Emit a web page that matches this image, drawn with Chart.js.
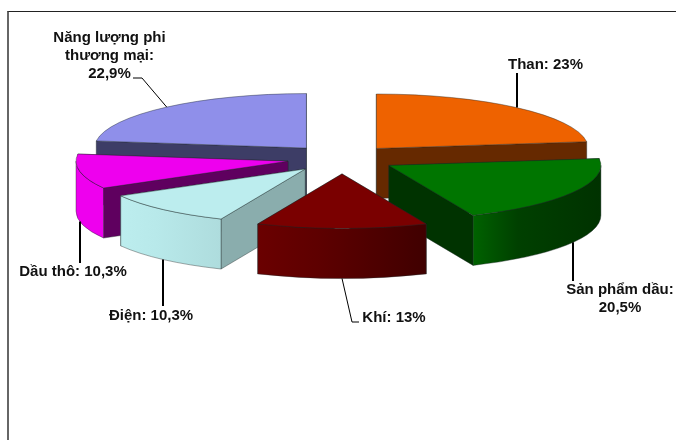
<!DOCTYPE html>
<html lang="vi">
<head>
  <meta charset="UTF-8" />
  <title>Cơ cấu năng lượng</title>
  <script src="https://cdn.jsdelivr.net/npm/chart.js"></script>
  <style>
    html, body { margin: 0; padding: 0; background: #fff; overflow: hidden; }
    #frame {
      position: absolute; left: 7px; top: 11px; width: 669px; height: 429px;
      border-top: 1px solid #222; border-left: 2px solid #666;
    }
    #chart { position: absolute; left: 0; top: 0; }
  </style>
</head>
<body>
  <div id="frame"></div>
  <canvas id="chart" width="676" height="440"></canvas>
  <script>
    const categories = ['Than', 'Sản phẩm dầu', 'Khí', 'Điện', 'Dầu thô', 'Năng lượng phi\nthương mại'];
    const shares = [23, 20.5, 13, 10.3, 10.3, 22.9];
    const labelBreaks = [' ', '\n', ' ', ' ', ' ', '\n'];

    const topColors = ['#EE6200', '#007500', '#7A0000', '#BCEDEE', '#EE00EE', '#8F8FEA'];
    const cutColors = ['#662900', '#003300', '#3A0000', '#8AADAD', '#5F005F', '#3D3D66'];
    const wallFrom = ['#EE6200', '#006200', '#6A0000', '#BCEDEE', '#EE00EE', '#8F8FEA'];
    const wallMid = ['#EE6200', '#004000', '#5E0000', '#B8E9EA', '#EE00EE', '#8F8FEA'];
    const wallTo = ['#EE6200', '#003200', '#400000', '#AEDCDD', '#EE00EE', '#8F8FEA'];

    // how far each slice is pulled out, and back-to-front paint order
    const explode = [52, 54, 60, 55, 55, 54];
    const paintOrder = [0, 5, 4, 3, 1, 2];
    const squash = 0.257;
    const depth = 50;

    // label anchors: centre x, first baseline
    const labelPos = [[545.5, 69], [620, 294], [394, 322], [151, 320], [73, 276], [109.5, 42]];
    const leaderEnds = [
      [[517, 73]],
      [[573, 281]],
      [[352, 322], [359, 322]],
      [[163, 306]],
      [[80, 263]],
      [[142, 78], [133, 78]]
    ];
    const leaderWidths = [2, 2, 1, 2, 2, 1];
    const edgeColor = 'rgba(30,40,40,0.5)';

    // screen position of a point on slice i, angle a, radius r, h px below the top face
    function pt(arc, i, a, r, h) {
      const mid = (arc.startAngle + arc.endAngle) / 2;
      return [
        arc.x + explode[i] * Math.cos(mid) + r * Math.cos(a),
        arc.y + squash * (explode[i] * Math.sin(mid) + r * Math.sin(a)) + (h || 0)
      ];
    }

    function drawCut(ctx, arc, i, a) {
      const apex = pt(arc, i, a, 0), edge = pt(arc, i, a, arc.outerRadius);
      ctx.fillStyle = cutColors[i];
      ctx.strokeStyle = edgeColor;
      ctx.lineWidth = 0.8;
      ctx.beginPath();
      ctx.moveTo(apex[0], apex[1]);
      ctx.lineTo(edge[0], edge[1]);
      ctx.lineTo(edge[0], edge[1] + depth);
      ctx.lineTo(apex[0], apex[1] + depth);
      ctx.closePath();
      ctx.fill();
      ctx.stroke();
    }

    function drawOuter(ctx, arc, i) {
      // only the front half of the rim can be seen
      const TAU = 2 * Math.PI;
      const s = ((arc.startAngle % TAU) + TAU) % TAU;
      const e = s + (arc.endAngle - arc.startAngle);
      const ranges = [];
      if (Math.min(e, Math.PI) > s) ranges.push([s, Math.min(e, Math.PI)]);
      if (e > TAU) ranges.push([TAU, Math.min(e, 3 * Math.PI)]);
      ranges.forEach(([p, q]) => {
        const c = pt(arc, i, 0, 0);
        const x0 = pt(arc, i, q, arc.outerRadius)[0], x1 = pt(arc, i, p, arc.outerRadius)[0];
        const grad = ctx.createLinearGradient(x0, 0, x1, 0);
        grad.addColorStop(0, wallFrom[i]);
        grad.addColorStop(0.35, wallMid[i]);
        grad.addColorStop(1, wallTo[i]);
        ctx.fillStyle = grad;
        ctx.strokeStyle = edgeColor;
        ctx.lineWidth = 0.8;
        const rx = arc.outerRadius, ry = arc.outerRadius * squash;
        ctx.beginPath();
        ctx.ellipse(c[0], c[1], rx, ry, 0, p, q);
        ctx.ellipse(c[0], c[1] + depth, rx, ry, 0, q, p, true);
        ctx.closePath();
        ctx.fill();
        ctx.stroke();
      });
    }

    // hairline round the top face, the element itself draws no border under the squash
    function drawTopEdge(ctx, arc, i) {
      const apex = pt(arc, i, 0, 0);
      ctx.strokeStyle = edgeColor;
      ctx.lineWidth = 0.8;
      ctx.beginPath();
      ctx.moveTo(apex[0], apex[1]);
      ctx.ellipse(apex[0], apex[1], arc.outerRadius, arc.outerRadius * squash, 0, arc.startAngle, arc.endAngle);
      ctx.closePath();
      ctx.stroke();
    }

    const pie3d = {
      id: 'pie3d',
      beforeDatasetDraw(chart) {
        const ctx = chart.ctx;
        const arcs = chart.getDatasetMeta(0).data;
        paintOrder.forEach(i => {
          const arc = arcs[i];
          const mid = (arc.startAngle + arc.endAngle) / 2;
          // the cut face nearer the back goes first so its edges get covered
          const cuts = [arc.startAngle, arc.endAngle].sort((a, b) => Math.sin(a) - Math.sin(b));
          cuts.forEach(a => drawCut(ctx, arc, i, a));
          drawOuter(ctx, arc, i);
          ctx.save();
          ctx.translate(explode[i] * Math.cos(mid), arc.y);
          ctx.scale(1, squash);
          ctx.translate(0, -arc.y + explode[i] * Math.sin(mid));
          arc.draw(ctx);
          ctx.restore();
          drawTopEdge(ctx, arc, i);
        });
        return false;
      },
      afterDatasetsDraw(chart) {
        const ctx = chart.ctx;
        const arcs = chart.getDatasetMeta(0).data;
        ctx.save();
        ctx.strokeStyle = '#000';
        arcs.forEach((arc, i) => {
          const mid = (arc.startAngle + arc.endAngle) / 2;
          const front = Math.sin(mid) > 0;
          const start = pt(arc, i, mid, arc.outerRadius, front ? depth : 0);
          const ends = leaderEnds[i];
          ctx.lineWidth = leaderWidths[i];
          ctx.beginPath();
          ctx.moveTo(ends.length === 1 ? ends[0][0] : start[0], start[1]);
          ends.forEach(p => ctx.lineTo(p[0], p[1]));
          ctx.stroke();
        });
        ctx.fillStyle = '#111';
        ctx.font = 'bold 15px "Liberation Sans", Arial, sans-serif';
        ctx.textAlign = 'center';
        categories.forEach((cat, i) => {
          const text = cat + ':' + labelBreaks[i] + String(shares[i]).replace('.', ',') + '%';
          text.split('\n').forEach((line, n) => {
            ctx.fillText(line, labelPos[i][0], labelPos[i][1] + n * 18);
          });
        });
        ctx.restore();
      }
    };

    new Chart(document.getElementById('chart'), {
      type: 'pie',
      data: {
        labels: categories,
        datasets: [{ data: shares, backgroundColor: topColors, borderWidth: 0 }]
      },
      options: {
        responsive: false,
        animation: false,
        radius: 212,
        layout: { padding: { left: 8, bottom: 123 } },
        plugins: { legend: { display: false }, tooltip: { enabled: false } }
      },
      plugins: [pie3d]
    });
  </script>
</body>
</html>
